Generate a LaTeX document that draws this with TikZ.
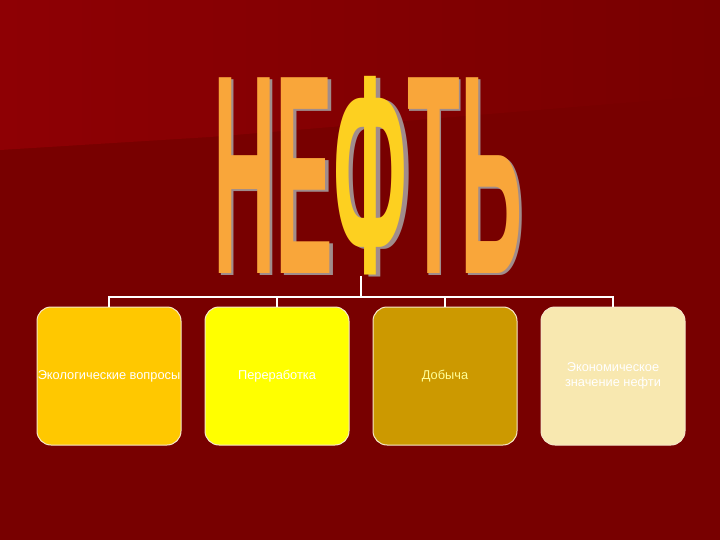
\documentclass[tikz,border=0pt]{standalone}
\usepackage{fontspec}
\setmainfont{Liberation Sans}
\usepackage{graphicx}
\definecolor{bgdark}{HTML}{780000}
\definecolor{bglight}{HTML}{8E0004}
\definecolor{titleor}{HTML}{F9A63A}
\definecolor{titleye}{HTML}{FDD020}
\definecolor{shadowc}{HTML}{A08C8C}
\definecolor{cone}{HTML}{FFC800}
\definecolor{ctwo}{HTML}{FFFF00}
\definecolor{cthree}{HTML}{CC9900}
\definecolor{cfour}{HTML}{F8E8B0}
\definecolor{edgec}{HTML}{F6E7C9}
\definecolor{txtthree}{HTML}{FFFF99}
\tikzset{
  box/.style={draw=edgec, line width=1pt, rounded corners=14pt, minimum width=144pt, minimum height=138pt, inner sep=0pt, align=center, font=\fontsize{12.8}{15}\selectfont},
  link/.style={draw=white, line width=1.5pt}
}
\begin{document}
\begin{tikzpicture}[x=1pt,y=-1pt]
\useasboundingbox (0,0) rectangle (720,540);
\fill[bgdark] (0,0) rectangle (720,540);
\shade[left color=bglight, right color=bgdark] (0,0) -- (720,0) -- (720,95) -- (210,137) -- (0,150) -- cycle;
% title with shadow
\node[anchor=south west, inner sep=0pt, text=shadowc] (shadow) at (215.5,277.5) {\resizebox{309pt}{197pt}{\bfseries НЕФТЬ}};
\node[anchor=south west, inner sep=0pt] (title) at (213,275) {\resizebox{309pt}{197pt}{\bfseries\color{titleor}НЕ\color{titleye}Ф\color{titleor}ТЬ}};
% boxes
\node[box, fill=cone, text=white] (b1) at (109,376) {Экологические вопросы};
\node[box, fill=ctwo, text=white] (b2) at (277,376) {Переработка};
\node[box, fill=cthree, text=txtthree] (b3) at (445,376) {Добыча};
\node[box, fill=cfour, text=white] (b4) at (613,376) {Экономическое\\значение нефти};
% connectors
\coordinate (root) at (361,276);
\coordinate (hub) at (361,297);
\draw[link] (root) -- (hub);
\draw[link] (hub) -| (b1.north);
\draw[link] (hub) -| (b2.north);
\draw[link] (hub) -| (b3.north);
\draw[link] (hub) -| (b4.north);
\end{tikzpicture}
\end{document}
